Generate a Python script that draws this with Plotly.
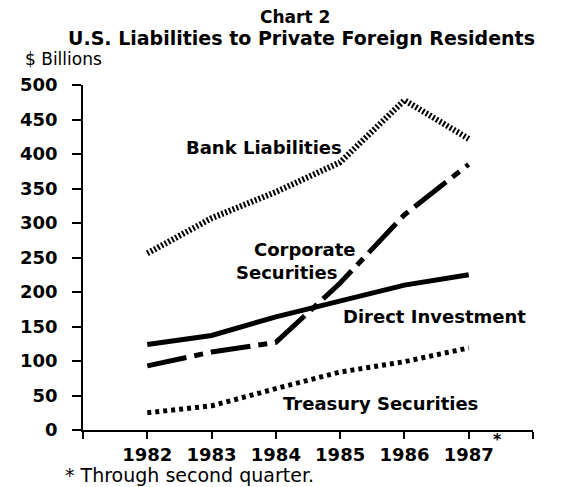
import plotly.graph_objects as go

years = [1982, 1983, 1984, 1985, 1986, 1987]
bank = [256, 307, 345, 388, 478, 422]
corporate = [93, 113, 127, 213, 312, 385]
direct = [124, 137, 164, 187, 210, 225]
treasury = [25, 35, 60, 84, 99, 119]

x_tickvals = [1981, 1982, 1983, 1984, 1985, 1986, 1987, 1988]
x_ticktext = ["", "1982", "1983", "1984", "1985", "1986", "1987", ""]
y_tickvals = [0, 50, 100, 150, 200, 250, 300, 350, 400, 450, 500]

# page body has an 8px margin
OFF = 8
W, H = 578 - OFF, 487 - OFF
L, T = 71 - OFF, 85 - OFF
R, B = W - (533 - OFF), H - (430 - OFF)
PW, PH = W - L - R, H - T - B

def px(xp):
    return (xp - OFF - L) / PW

def py(yp):
    return (H - B - (yp - OFF)) / PH

BOLD = dict(family="DejaVu Sans", size=18, color="black", weight="bold")

fig = go.Figure()
fig.add_trace(go.Scatter(x=years, y=bank, mode="lines",
                         line=dict(color="black", width=6, dash="2px,2px")))
fig.add_trace(go.Scatter(x=years, y=corporate, mode="lines",
                         line=dict(color="black", width=5, dash="40px,8px,9px,8px")))
fig.add_trace(go.Scatter(x=years, y=direct, mode="lines",
                         line=dict(color="black", width=5)))
fig.add_trace(go.Scatter(x=years, y=treasury, mode="lines",
                         line=dict(color="black", width=5, dash="4px,4px")))

annots = [
    dict(text="Bank Liabilities", x=1983.82, y=410, xref="x", yref="y", font=BOLD),
    dict(text="Corporate", x=1984.45, y=261, xref="x", yref="y", font=BOLD),
    dict(text="Securities", x=1984.17, y=228, xref="x", yref="y", font=BOLD),
    dict(text="Direct Investment", x=1986.47, y=164, xref="x", yref="y", font=BOLD),
    dict(text="Treasury Securities", x=1985.62, y=39, xref="x", yref="y", font=BOLD),
    dict(text="Chart 2", x=px(289), y=py(17), xref="paper", yref="paper",
         font=dict(family="DejaVu Sans", size=17, color="black", weight="bold")),
    dict(text="U.S. Liabilities to Private Foreign Residents", x=px(295), y=py(38),
         xref="paper", yref="paper",
         font=dict(family="DejaVu Sans", size=19, color="black", weight="bold")),
    dict(text="$ Billions", x=px(9), y=py(59), xref="paper", yref="paper", xanchor="left",
         font=dict(family="DejaVu Sans", size=17, color="black")),
    dict(text="* Through second quarter.", x=px(50), y=py(475), xref="paper", yref="paper",
         xanchor="left", font=dict(family="DejaVu Sans", size=19, color="black")),
    dict(text="*", x=px(497), y=py(440), xref="paper", yref="paper",
         font=dict(family="DejaVu Sans", size=16, color="black", weight="bold")),
]
for a in annots:
    a.setdefault("xanchor", "center")
    a["yanchor"] = "middle"
    a["showarrow"] = False
    fig.add_annotation(**a)

fig.update_layout(
    width=W, height=H,
    margin=dict(l=L, r=R, t=T, b=B, pad=0),
    paper_bgcolor="white", plot_bgcolor="white",
    showlegend=False,
    xaxis=dict(range=[1981, 1988], tickvals=x_tickvals, ticktext=x_ticktext,
               showgrid=False, zeroline=False, showline=True, linecolor="black",
               linewidth=2, ticks="outside", ticklen=7, tickwidth=1.5, tickcolor="black",
               ticklabelstandoff=0,
               tickfont=dict(family="DejaVu Sans", size=18, color="black", weight="bold")),
    yaxis=dict(range=[0, 500], tickvals=y_tickvals,
               showgrid=False, zeroline=False, showline=True, linecolor="black",
               linewidth=1.5, ticks="outside", ticklen=9, tickwidth=1.5, tickcolor="black",
               ticklabelstandoff=11,
               tickfont=dict(family="DejaVu Sans", size=18, color="black", weight="bold")),
)

fig.write_html("out.html")
